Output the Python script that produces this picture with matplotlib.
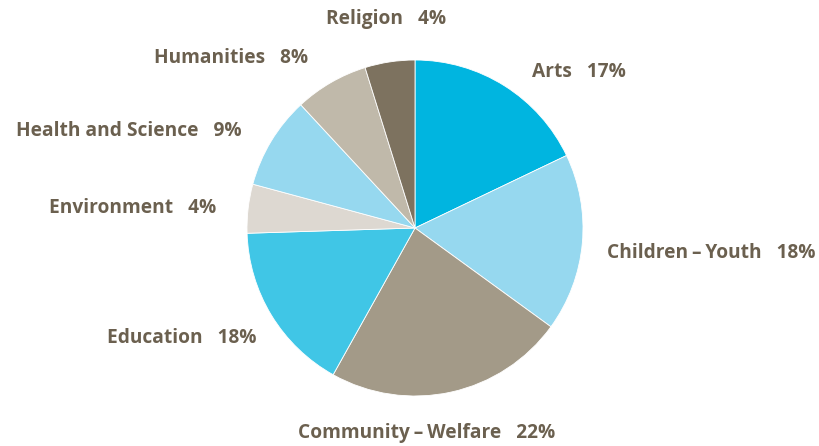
import numpy as np
import matplotlib
matplotlib.use("Agg")
import matplotlib.pyplot as plt

plt.rcParams['font.family'] = ['Open Sans', 'DejaVu Sans']

# slice sizes (clockwise from 12 o'clock)
categories = ["Arts", "Children\u2009\u2013\u2009Youth", "Community\u2009\u2013\u2009Welfare",
              "Education", "Environment", "Health and Science", "Humanities", "Religion"]
shares = [17.9, 17.1, 23.1, 16.4, 4.7, 8.9, 7.1, 4.8]
printed_pct = ["17%", "18%", "22%", "18%", "4%", "9%", "8%", "4%"]
colors = ["#00b5e0", "#96d8ef", "#a39a88", "#40c6e6",
          "#ddd8d1", "#96d8ef", "#c0b9aa", "#7d725f"]

labels = [c + "   " + p for c, p in zip(categories, printed_pct)]

# label anchors in pie radii, with alignment (layout only)
label_pos = [(0.696, 0.928, 'left'), (1.143, -0.149, 'left'), (0.071, -1.22, 'center'),
             (-0.946, -0.655, 'right'), (-1.185, 0.119, 'right'), (-1.03, 0.577, 'right'),
             (-0.637, 1.012, 'right'), (-0.173, 1.244, 'center')]

fig = plt.figure(figsize=(8.19, 4.46), dpi=100)
ax = fig.add_axes([0, 0, 1, 1])

wedges, _ = ax.pie(shares, colors=colors, startangle=90, counterclock=False,
                   wedgeprops=dict(edgecolor='white', linewidth=0.6))

for lab, (x, y, ha) in zip(labels, label_pos):
    ax.text(x, y, lab, ha=ha, va='center', fontsize=13.8, fontweight='bold',
            color='#6b604f')

# place the pie: centre at (415, 228) px, radius 168 px
r = 168.0
ax.set_xlim(-415 / r, (819 - 415) / r)
ax.set_ylim(-(446 - 228) / r, 228 / r)
ax.set_aspect('equal', adjustable='box')
ax.axis('off')

fig.savefig("out.png", dpi=100, facecolor='white')
